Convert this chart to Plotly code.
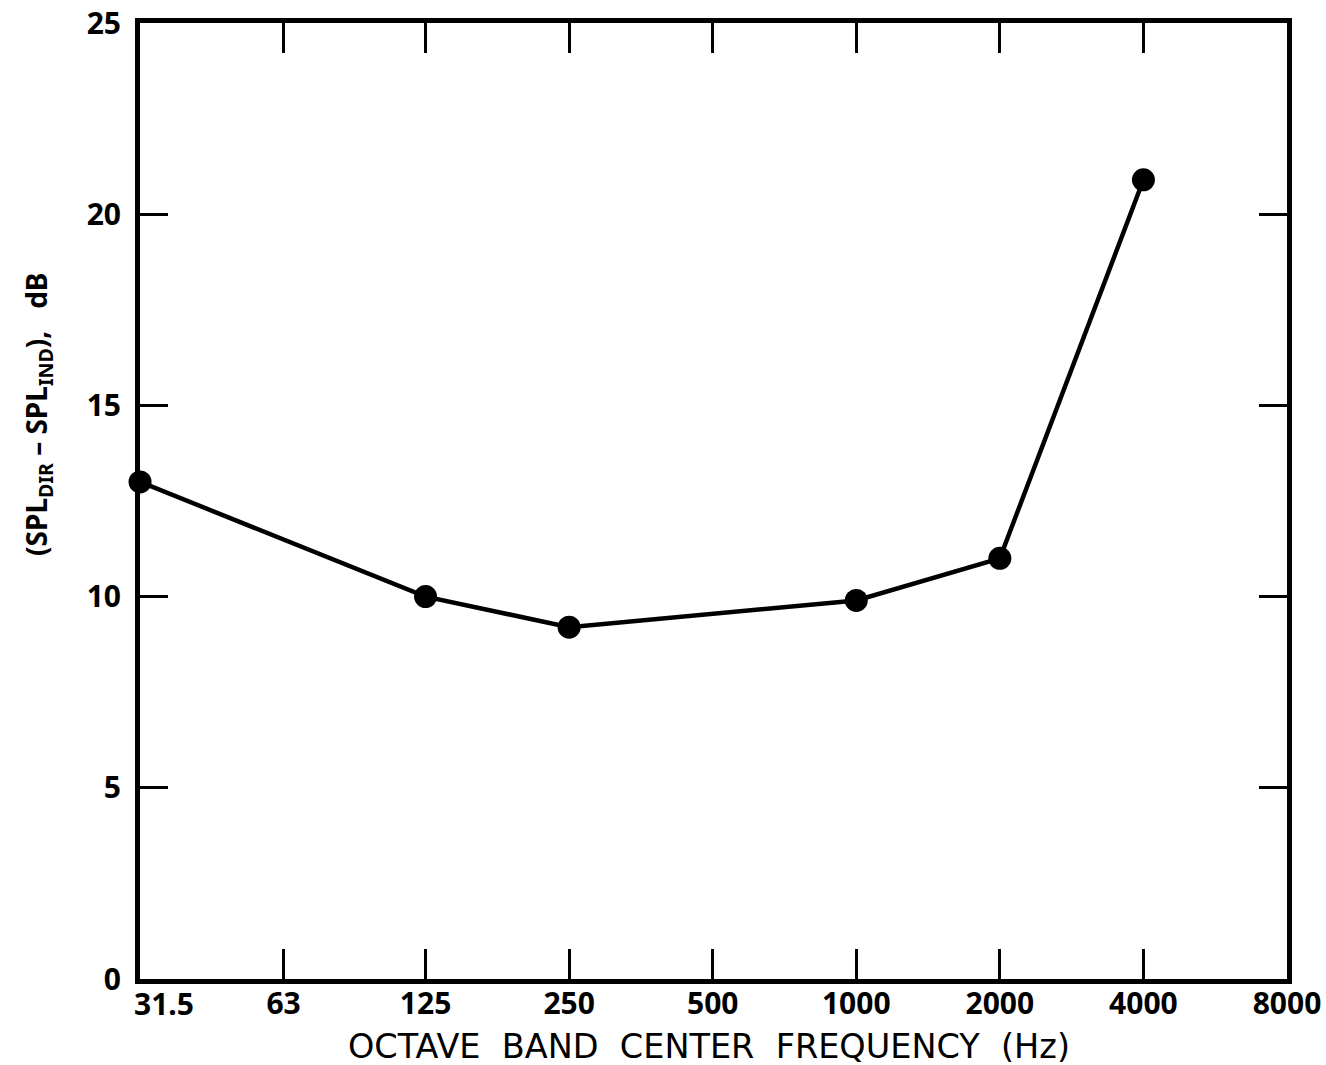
import math
import plotly.graph_objects as go

# Octave band centre frequencies (Hz) and measured level difference (dB)
band_hz = [31.5, 125, 250, 1000, 2000, 4000]
level_diff_db = [13.0, 10.0, 9.2, 9.9, 11.0, 20.9]

# Axis ticks (the first band label is set beside its tick, clear of the "0")
x_tick_vals = [31.5, 63, 125, 250, 500, 1000, 2000, 4000, 8000]
x_tick_text = ["31.5", "63", "125", "250", "500", "1000", "2000", "4000", "8000"]
y_tick_vals = [0, 5, 10, 15, 20, 25]

fig = go.Figure()
fig.add_trace(go.Scatter(
    x=band_hz,
    y=level_diff_db,
    mode="lines+markers",
    line=dict(color="black", width=4.5),
    marker=dict(color="black", size=23),
    cliponaxis=False,
    showlegend=False,
))

tick_font = dict(family="Noto Sans", size=30, color="black", weight="bold")

fig.update_xaxes(
    type="log",
    # tiny pad on the low end so the first marker is not culled at the edge
    range=[math.log10(31.5) - 1e-4, math.log10(8000)],
    tickvals=x_tick_vals,
    ticktext=[""] + x_tick_text[1:],
    ticks="inside",
    ticklen=30,
    tickwidth=3,
    tickcolor="black",
    showline=True,
    linewidth=5,
    linecolor="black",
    mirror="ticks",
    showgrid=False,
    zeroline=False,
    tickfont=tick_font,
    ticklabelstandoff=-6,
    automargin=False,
)
fig.update_yaxes(
    range=[0, 25],
    tickvals=y_tick_vals,
    ticks="inside",
    ticklen=28,
    tickwidth=3,
    tickcolor="black",
    showline=True,
    linewidth=5,
    linecolor="black",
    mirror="ticks",
    showgrid=False,
    zeroline=False,
    tickfont=tick_font,
    ticklabelstandoff=8,
    automargin=False,
)

# first frequency label, nudged right of the corner
fig.add_annotation(
    text=x_tick_text[0],
    xref="x", yref="paper",
    x=math.log10(x_tick_vals[0]), y=0,
    xanchor="left", yanchor="top",
    xshift=-8, yshift=-2,
    showarrow=False,
    font=tick_font,
)

fig.add_annotation(
    text="OCTAVE  BAND  CENTER  FREQUENCY  (Hz)",
    xref="paper", yref="paper",
    x=0.496, y=-0.071,
    xanchor="center", yanchor="middle",
    showarrow=False,
    font=dict(family="DejaVu Sans", size=33.5, color="black"),
)
fig.add_annotation(
    text="(SPL<sub>DIR</sub> \u2013 SPL<sub>IND</sub>),   dB",
    xref="paper", yref="paper",
    x=-0.089, y=0.591,
    xanchor="center", yanchor="middle",
    textangle=-90,
    showarrow=False,
    font=dict(family="Noto Sans", size=28, color="black", weight="bold"),
)

fig.update_layout(
    width=1326,
    height=1065,
    margin=dict(l=140, r=39, t=23, b=86),
    paper_bgcolor="white",
    plot_bgcolor="white",
)

fig.write_html("out.html")
